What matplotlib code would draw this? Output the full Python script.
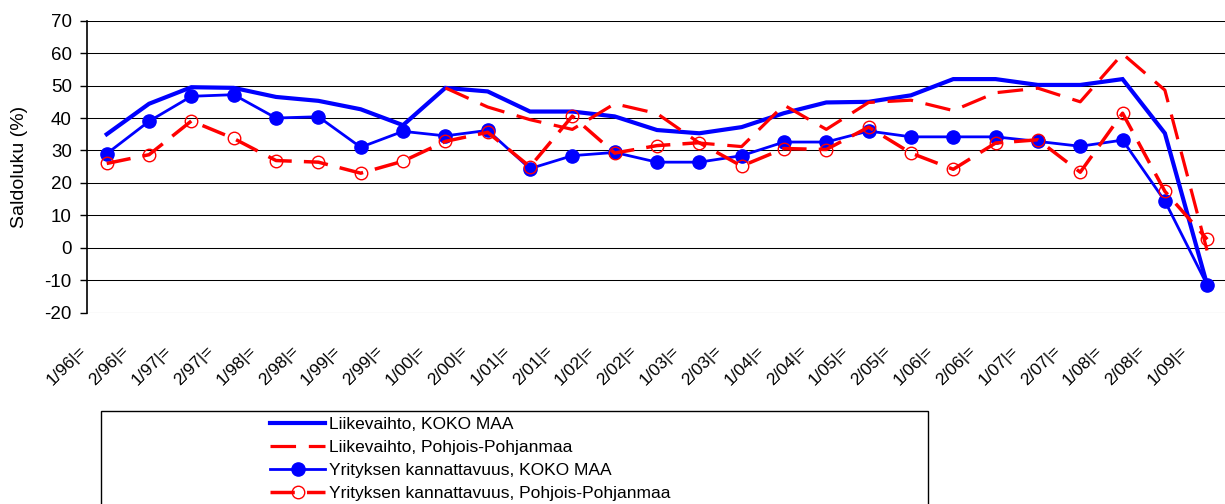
import matplotlib
matplotlib.use('Agg')
import matplotlib.pyplot as plt
import matplotlib.transforms as mtransforms
from matplotlib.patches import Rectangle
import numpy as np

plt.rcParams['font.family'] = ['Liberation Sans', 'DejaVu Sans']
plt.rcParams['axes.unicode_minus'] = False

# ---------------------------------------------------------------
# Data
# ---------------------------------------------------------------
periods = ['1/96', '2/96', '1/97', '2/97', '1/98', '2/98', '1/99', '2/99',
           '1/00', '2/00', '1/01', '2/01', '1/02', '2/02', '1/03', '2/03',
           '1/04', '2/04', '1/05', '2/05', '1/06', '2/06', '1/07', '2/07',
           '1/08', '2/08', '1/09']
tick_labels = [p + '|=' for p in periods]

liikevaihto_koko = [35, 44.4, 49.5, 49.3, 46.5, 45.3, 42.7, 37.8,
                    49.3, 48.2, 42, 42, 40.5, 36.3, 35.3, 37.2,
                    41.5, 44.8, 45, 47, 52, 52, 50.2, 50.2,
                    52, 35.3, -11.5]

nan = np.nan
liikevaihto_pp = [nan, nan, nan, nan, nan, nan, nan, nan,
                  49.3, 43.4, 39.5, 36.5, 44.4, 41.4, 32.3, 31.2,
                  44, 36.5, 44.8, 45.5, 42.3, 47.8, 49.2, 45,
                  59.8, 48.6, -1]

kannattavuus_koko = [29, 39, 46.7, 47.2, 40, 40.4, 31, 35.9,
                     34.5, 36.2, 24.4, 28.4, 29.4, 26.4, 26.4, 28.4,
                     32.6, 32.6, 36, 34.2, 34.2, 34.2, 32.8, 31.3,
                     33.2, 14.4, -11.5]

kannattavuus_pp = [26, 28.7, 39.1, 33.7, 26.9, 26.4, 23, 26.7,
                   32.8, 35.6, 25, 40.6, 29.2, 31.5, 32.4, 25.2,
                   30.6, 30.3, 37.2, 29.2, 24.2, 32.3, 33.3, 23.3,
                   41.5, 17.4, 2.6]

series_names = ['Liikevaihto, KOKO MAA',
                'Liikevaihto, Pohjois-Pohjanmaa',
                'Yrityksen kannattavuus, KOKO MAA',
                'Yrityksen kannattavuus, Pohjois-Pohjanmaa']

# ---------------------------------------------------------------
# Figure
# ---------------------------------------------------------------
W, H = 1225, 504
fig = plt.figure(figsize=(W / 100, H / 100), dpi=100)

ax_l, ax_r, ax_t, ax_b = 87, 1225, 20.7, 312.7
ax = fig.add_axes([ax_l / W, 1 - ax_b / H, (ax_r - ax_l) / W, (ax_b - ax_t) / H])

x = np.arange(len(periods))

l1, = ax.plot(x, liikevaihto_koko, color='#0000FF', linewidth=3.0,
              solid_joinstyle='miter', zorder=3)
l2, = ax.plot(x, liikevaihto_pp, color='#FF0000', linewidth=2.3,
              dashes=(8, 4), zorder=4)
l3, = ax.plot(x, kannattavuus_koko, color='#0000FF', linewidth=2.0,
              marker='o', markersize=9.5, markerfacecolor='#0000FF',
              markeredgecolor='#0000FF', zorder=5)
l4, = ax.plot(x, kannattavuus_pp, color='#FF0000', linewidth=2.5,
              dashes=(7, 3.5), marker='o', markersize=9,
              markerfacecolor='none', markeredgecolor='#FF0000',
              markeredgewidth=1.0, zorder=6)

ax.set_xlim(-0.466, 26.42)
ax.set_ylim(-20, 70)
ax.set_yticks(np.arange(-20, 71, 10))
ax.yaxis.grid(True, color='black', linewidth=0.75)
ax.set_axisbelow(True)

for s in ['top', 'right', 'bottom']:
    ax.spines[s].set_visible(False)
ax.spines['left'].set_linewidth(1.2)

ax.tick_params(axis='y', direction='out', length=5, width=1, pad=6,
               labelsize=13.5)
ax.set_ylabel('Saldoluku (%)', fontsize=14)
ax.yaxis.set_label_coords(-0.052, 0.5)

ax.set_xticks(x)
ax.set_xticklabels(tick_labels, rotation=45, ha='right', va='top',
                   rotation_mode='anchor', fontsize=12.5)
ax.tick_params(axis='x', length=0, pad=0)
offset = mtransforms.ScaledTranslation(-0.28, -0.30, fig.dpi_scale_trans)
for lab in ax.get_xticklabels():
    lab.set_transform(lab.get_transform() + offset)

# Legend box (extends below the figure edge like the original)
box = Rectangle((101 / W, 1 - 530 / H), (928 - 101) / W, (530 - 411) / H,
                transform=fig.transFigure, facecolor='white',
                edgecolor='black', linewidth=1.0, clip_on=False)
fig.patches.append(box)

fs_leg = 12.5
fs_px = fs_leg * 100 / 72
fig.legend([l1, l2, l3, l4], series_names, loc='upper left',
           bbox_to_anchor=(270 / W, 1 - 417 / H), frameon=False,
           fontsize=fs_leg, handlelength=55 / fs_px, handletextpad=4 / fs_px,
           labelspacing=0.45, borderpad=0, borderaxespad=0)

plt.savefig('out.png', dpi=100)
